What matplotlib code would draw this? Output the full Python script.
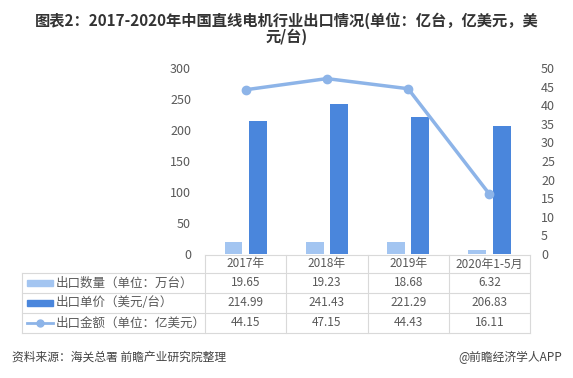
import matplotlib
matplotlib.use("Agg")
from matplotlib import pyplot as plt
from matplotlib.lines import Line2D
from matplotlib.patches import Rectangle

plt.rcParams['font.family'] = ['Noto Sans CJK SC', 'DejaVu Sans']

# data
years = ["2017年", "2018年", "2019年", "2020年1-5月"]
qty = [19.65, 19.23, 18.68, 6.32]          # 出口数量 (万台)
price = [214.99, 241.43, 221.29, 206.83]   # 出口单价 (美元/台)
amount = [44.15, 47.15, 44.43, 16.11]      # 出口金额 (亿美元)
series_names = ["出口数量（单位：万台）", "出口单价（美元/台）", "出口金额（单位：亿美元）"]

light = "#a3c5f1"
dark = "#4a86dc"
line_c = "#8db4e8"
grid_c = "#d9d9d9"
txt_c = "#595959"

W, H = 573, 378
fig = plt.figure(figsize=(W / 100, H / 100), dpi=100)

def fx(px):
    return px / W

def fy(py):
    return 1 - py / H

x0, x1, y_top, y_bot = 205, 530, 68, 254
ax = fig.add_axes([fx(x0), fy(y_bot), fx(x1 - x0), fy(y_top) - fy(y_bot)])
xs = list(range(len(years)))
ax.bar([x - 0.15 for x in xs], qty, width=0.22, color=light)
ax.bar([x + 0.15 for x in xs], price, width=0.22, color=dark)
ax.set_xlim(-0.5, len(years) - 0.5)
ax.set_ylim(0, 300)
ax.set_yticks(range(0, 301, 50))
ax.set_xticks([])
for s in ax.spines.values():
    s.set_visible(False)
ax.tick_params(axis="y", length=0, labelsize=9, labelcolor=txt_c, pad=10)

ax2 = ax.twinx()
ax2.plot(xs, amount, color=line_c, lw=2.5, marker="o", ms=6)
ax2.set_ylim(0, 50)
ax2.set_yticks(range(0, 51, 5))
for s in ax2.spines.values():
    s.set_visible(False)
ax2.tick_params(axis="y", length=0, labelsize=9, labelcolor=txt_c, pad=8)

# data table below the axes
col_w = (x1 - x0) / len(years)
rows_y = [255, 273, 293, 313, 333]
lc = dict(color=grid_c, lw=0.8, transform=fig.transFigure)
fig.add_artist(Line2D([fx(x0), fx(x1)], [fy(rows_y[0])] * 2, **lc))
for y in rows_y[1:]:
    fig.add_artist(Line2D([fx(22), fx(x1)], [fy(y)] * 2, **lc))
fig.add_artist(Line2D([fx(22), fx(22)], [fy(rows_y[1]), fy(rows_y[-1])], **lc))
for i in range(len(years) + 1):
    xx = x0 + i * col_w
    fig.add_artist(Line2D([fx(xx), fx(xx)], [fy(rows_y[0]), fy(rows_y[-1])], **lc))

for i, yr in enumerate(years):
    cx = x0 + (i + 0.5) * col_w
    fig.text(fx(cx), fy((rows_y[0] + rows_y[1]) / 2), yr, ha="center", va="center",
             fontsize=8.5, color=txt_c)
    for r, vals in enumerate([qty, price, amount]):
        fig.text(fx(cx), fy((rows_y[r + 1] + rows_y[r + 2]) / 2), f"{vals[i]:.2f}",
                 ha="center", va="center", fontsize=8.5, color=txt_c)

for r, name in enumerate(series_names):
    cy = (rows_y[r + 1] + rows_y[r + 2]) / 2
    if r < 2:
        fig.add_artist(Rectangle((fx(27), fy(cy + 3)), fx(26), fy(cy - 3) - fy(cy + 3),
                                 color=[light, dark][r], transform=fig.transFigure))
    else:
        fig.add_artist(Line2D([fx(27), fx(53)], [fy(cy)] * 2, color=line_c, lw=2,
                              transform=fig.transFigure))
        fig.add_artist(Line2D([fx(40)], [fy(cy)], color=line_c, marker="o", ms=5,
                              transform=fig.transFigure))
    fig.text(fx(56), fy(cy), name, ha="left", va="center", fontsize=9, color=txt_c)

fig.text(0.5, fy(21), "图表2：2017-2020年中国直线电机行业出口情况(单位：亿台，亿美元，美",
         ha="center", va="center", fontsize=11, fontweight="bold", color="#333333")
fig.text(0.5, fy(37), "元/台)", ha="center", va="center", fontsize=11,
         fontweight="bold", color="#333333")
fig.text(fx(12), fy(357), "资料来源：海关总署 前瞻产业研究院整理", ha="left", va="center",
         fontsize=8.5, color="#444444")
fig.text(fx(562), fy(357), "@前瞻经济学人APP", ha="right", va="center",
         fontsize=8.5, color="#444444")

fig.savefig("out.png", dpi=100)
